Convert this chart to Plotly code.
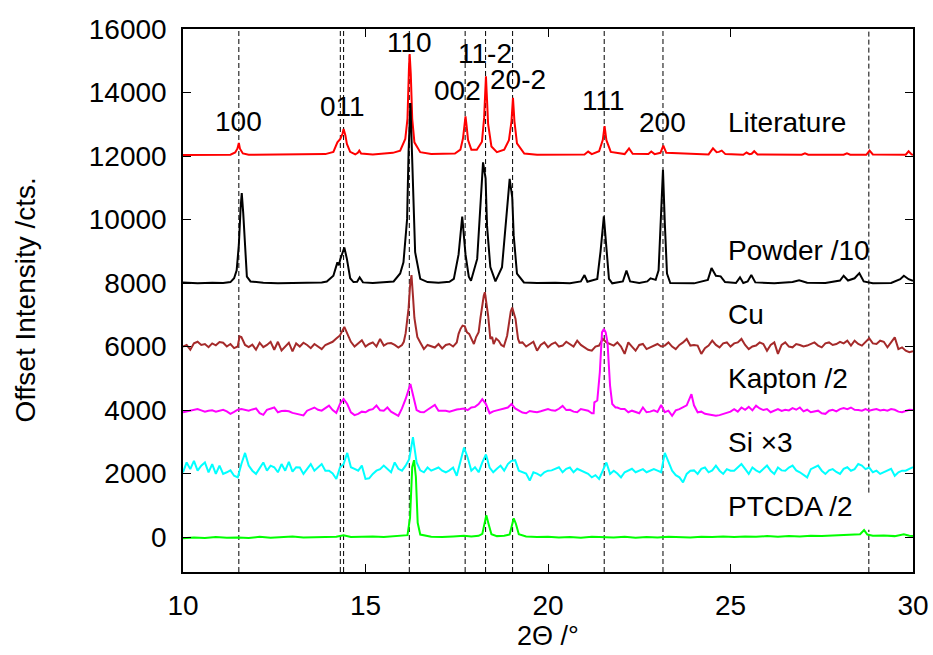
import numpy as np
import plotly.graph_objects as go

FONT = "Liberation Sans, Arial, Helvetica, sans-serif"

# ---------------- data ----------------
grid_x = [round(10 + 0.1 * i, 2) for i in range(201)]

lit_x = [10.0, 11.3, 11.43, 11.49, 11.53, 11.56, 11.64, 11.8, 13.9, 14.12, 14.23, 14.31, 14.37, 14.40,
         14.45, 14.49, 14.58, 14.72, 14.79, 14.83, 14.88, 15.2, 15.75, 15.95, 16.09, 16.15, 16.19, 16.21,
         16.24, 16.28, 16.34, 16.50, 16.8, 17.45, 17.60, 17.67, 17.71, 17.74, 17.77, 17.81, 17.90, 18.05,
         18.19, 18.25, 18.28, 18.30, 18.32, 18.36, 18.45, 18.60, 18.80, 18.93, 19.00, 19.04, 19.08, 19.15,
         19.35, 19.7, 21.0, 21.10, 21.2, 21.40, 21.50, 21.55, 21.60, 21.72, 22.10, 22.22, 22.32, 22.75,
         22.83, 22.92, 23.08, 23.16, 23.24, 24.40, 24.52, 24.62, 24.68, 24.76, 24.86, 25.35, 25.44, 25.52,
         25.58, 25.65, 25.74, 26.95, 27.04, 27.13, 28.10, 28.19, 28.28, 28.72, 28.81, 28.90, 29.80, 29.88,
         29.96, 30.0]
lit_y = [12030, 12040, 12110, 12230, 12410, 12230, 12080, 12040, 12060, 12130, 12430, 12540, 12700, 12850,
         12650, 12380, 12130, 12050, 12100, 12170, 12080, 12050, 12100, 12170, 12540, 13170, 14750, 15210,
         14600, 13170, 12430, 12120, 12060, 12080, 12200, 12550, 12950, 13250, 12950, 12500, 12200, 12200,
         12450, 13200, 14000, 14510, 14000, 13000, 12300, 12120, 12200, 12500, 13100, 13830, 13100, 12400,
         12080, 12040, 12050, 12140, 12060, 12150, 12500, 12940, 12500, 12130, 12060, 12240, 12070, 12060,
         12140, 12060, 12100, 12330, 12100, 12050, 12240, 12120, 12130, 12170, 12060, 12040, 12110, 12060,
         12070, 12150, 12050, 12040, 12085, 12040, 12040, 12085, 12040, 12040, 12170, 12050, 12040, 12150,
         12050, 12040]

pow_x = [10.0, 10.4, 10.8, 11.1, 11.3, 11.4, 11.47, 11.53, 11.58, 11.61, 11.65, 11.70, 11.75, 11.85, 12.2,
         12.6, 13.0, 13.4, 13.8, 13.94, 14.12, 14.23, 14.27, 14.31, 14.37, 14.42, 14.49, 14.58, 14.67, 14.77,
         14.84, 14.93, 15.2, 15.5, 15.77, 15.95, 16.04, 16.14, 16.18, 16.23, 16.29, 16.36, 16.50, 16.7, 17.0,
         17.3, 17.42, 17.55, 17.65, 17.74, 17.83, 17.89, 18.06, 18.15, 18.22, 18.29, 18.33, 18.42, 18.56,
         18.74, 18.86, 18.95, 19.02, 19.06, 19.15, 19.34, 19.7, 20.2, 20.6, 20.9, 21.00, 21.08, 21.35, 21.44,
         21.53, 21.61, 21.67, 21.76, 22.05, 22.15, 22.25, 22.5, 22.72, 22.81, 22.95, 23.03, 23.11, 23.15,
         23.20, 23.26, 23.35, 24.0, 24.38, 24.48, 24.60, 24.73, 24.85, 25.15, 25.26, 25.35, 25.47, 25.57,
         25.68, 26.2, 26.7, 26.88, 27.1, 27.6, 28.0, 28.10, 28.22, 28.40, 28.53, 28.65, 28.9, 29.4, 29.65,
         29.75, 29.88, 30.0]
pow_y = [8020, 7990, 8010, 8000, 8030, 8150, 8400, 9200, 10400, 10830, 10200, 9000, 8200, 8050, 8010,
         7990, 8000, 7990, 8020, 8050, 8230, 8650, 8560, 8750, 9000, 9120, 8760, 8150, 8030, 8040,
         8180, 8020, 8000, 8020, 8050, 8300, 8650, 10020, 12120, 13670, 11590, 8970, 8130, 8030, 8010,
         8040, 8130, 8900, 10090, 8900, 8200, 8075, 8760, 10540, 11800, 11300, 9800, 8500, 8050,
         8500, 10000, 11280, 10700, 9500, 8300, 8020, 8000, 8010, 7990, 8050, 8250, 8040, 8130, 9000,
         10100, 9100, 8130, 7990, 8050, 8390, 8050, 8000, 8050, 8150, 8100, 8400, 10500, 11570,
         9900, 8300, 8000, 7990, 8100, 8470, 8230, 8210, 8030, 8000, 8180, 8000, 8050, 8250,
         8020, 7990, 8030, 8090, 8010, 8000, 8080, 8230, 8080, 8150, 8310, 8050, 7990, 8000, 8120,
         8230, 8120, 8070]

cu_grid_y = [6000, 6050, 5900, 6100, 6150, 6050, 6080, 5980, 6100, 6040,
             6140, 6120, 6000, 6080, 5950, 6000, 6300, 6050, 5980, 6060,
             5900, 6120, 5980, 6050, 6150, 5900, 6150, 5880, 6000, 6120,
             5850, 6100, 6000, 6120, 6050, 5950, 6080, 6000, 5920, 6050,
             6100, 6150, 6250, 6350, 6600, 6400, 6150, 6000, 6100, 6200,
             6000, 6080, 6130, 6000, 6240, 6030, 6100, 6110, 6050, 5970,
             6050, 6420, 7900, 7600, 6300, 6130, 5920, 6050, 6000, 5970,
             6080, 5940, 6050, 6080, 6000, 6130, 6550, 6650, 6450, 6250,
             6200, 6450, 7290, 7500, 6240, 6080, 6180, 6050, 6000, 6340,
             7230, 6870, 6240, 6130, 6000, 6080, 6150, 5870, 6050, 6130,
             5980, 6080, 6130, 6000, 6030, 6150, 6080, 6000, 6185, 6050,
             5975, 5900, 5870, 6000, 6030, 6240, 6130, 6080, 6030, 6130,
             6000, 5770, 6130, 6000, 5870, 6050, 6080, 5920, 5975, 6050,
             6080, 6000, 6030, 6130, 6000, 5920, 6050, 6130, 6240, 6030,
             6050, 6030, 5770, 5950, 6030, 6185, 6050, 5975, 6100, 6130,
             6000, 6100, 6130, 6240, 6050, 5920, 6000, 6030, 6130, 6080,
             5870, 6050, 6130, 5770, 6050, 6130, 6000, 5975, 6080, 6050,
             6000, 6030, 6080, 6130, 6030, 5975, 6100, 6130, 6050, 6080,
             6150, 6100, 6185, 6030, 6185, 6080, 6030, 6150, 6260, 6100,
             6080, 6185, 6150, 5975, 6130, 6290, 5920, 5975, 5870, 5820,
             5850]
cu_peak_x = [11.55, 14.42, 16.05, 16.1, 16.15, 16.18, 16.22, 16.26, 16.3, 16.34, 16.38, 16.42,
             17.5, 17.55, 17.6, 17.66, 17.72, 17.78, 17.84, 17.9, 17.97, 18.03, 18.10, 18.15, 18.19,
             18.24, 18.27, 18.31, 18.36, 18.42, 18.47, 18.51, 18.58, 18.65, 18.72, 18.79, 18.84, 18.88,
             18.94, 18.98, 19.02, 19.06, 19.11, 19.15, 19.18, 19.22]
cu_peak_y = [6320, 6620, 6150, 6420, 6900, 7200, 7900, 8250, 7600, 6900, 6600, 6300,
             6130, 6400, 6550, 6660, 6640, 6450, 6400, 6250, 6080, 6300, 6450, 6900, 7290,
             7600, 7710, 7400, 6970, 6240, 6300, 6080, 6250, 6180, 6050, 6000, 6200, 6340,
             6800, 7100, 7230, 7050, 6870, 6500, 6240, 6120]

kap_grid_y = [3930, 3960, 3980, 4010, 4030, 3990, 3950, 3980, 3990, 3950,
              3970, 4010, 3960, 3880, 3940, 4010, 4030, 4000, 3980, 4020,
              4050, 3900, 3850, 4010, 4040, 4080, 3930, 3970, 3980, 3960,
              3910, 3880, 3850, 3830, 3980, 4020, 4080, 4010, 3980, 4060,
              4140, 4000, 3910, 4190, 4350, 4190, 3930, 3840, 3880, 3950,
              3930, 4000, 4030, 4140, 3990, 3980, 4080, 3950, 3880, 3820,
              4050, 4350, 4750, 4450, 4000, 3940, 3930, 4010, 4080, 4160,
              3980, 3990, 3980, 3950, 3990, 4020, 4030, 4050, 4000, 4080,
              4100, 4190, 4340, 4190, 3900, 3960, 3990, 4030, 4050, 4080,
              4190, 4050, 3980, 3920, 3900, 3970, 3950, 3930, 3960, 4000,
              4030, 3990, 3980, 4040, 4130, 4000, 4010, 3950, 3930, 4030,
              4010, 3980, 3900, 4240, 5190, 6450, 6450, 4770, 4190, 4080,
              4030, 4030, 3930, 3980, 3950, 3900, 4080, 3930, 3950, 3990,
              3940, 4160, 3930, 3980, 3820, 3990, 4030, 4080, 4150, 4450,
              4150, 3930, 3950, 3880, 3860, 3830, 3820, 3840, 3880, 3920,
              3950, 4030, 3950, 4080, 4010, 4100, 3990, 4140, 4050, 4000,
              4030, 3930, 3980, 4030, 3970, 4010, 3990, 4060, 4010, 4080,
              3960, 4010, 3930, 3960, 3980, 3900, 3880, 3980, 4010, 3960,
              4030, 4060, 4030, 4080, 4010, 4000, 3980, 4030, 3980, 4010,
              4030, 3990, 4010, 3980, 4030, 4010, 3950, 3930, 3970, 4010,
              4000]
kap_peak_x = [16.23, 21.25, 21.27, 21.35, 21.42, 21.48, 21.53, 21.58, 21.63, 21.70, 21.76, 21.85, 23.93]
kap_peak_y = [4820, 3900, 4240, 4300, 5190, 6450, 6550, 6450, 6130, 4770, 4190, 4080, 4500]

si_grid_y = [2040, 2350, 2140, 2400, 2090, 2250, 2350, 2040, 2300, 1990,
             2250, 1990, 2040, 2100, 1930, 1880, 2300, 2650, 2250, 2090,
             1990, 2150, 2350, 2090, 2250, 2200, 2040, 2300, 2090, 2370,
             2060, 2200, 2190, 1990, 2150, 2300, 2090, 2200, 2300, 2090,
             2090, 2000, 1830, 2190, 2300, 2650, 2200, 2150, 2090, 2250,
             1830, 1850, 1990, 2090, 2140, 2250, 2150, 2040, 2350, 2150,
             2090, 2250, 2460, 3150, 2350, 2100, 2040, 2190, 2090, 2150,
             2190, 2090, 2040, 2100, 2190, 1930, 2350, 2820, 2500, 2090,
             2200, 2040, 2350, 2600, 2190, 2040, 2150, 2250, 2090, 2300,
             2400, 2420, 2090, 2040, 2000, 1780, 2040, 2000, 1930, 2040,
             2090, 2100, 2140, 2200, 2040, 2150, 2190, 2040, 2150, 2090,
             2040, 1990, 1880, 1950, 1830, 2090, 2350, 1990, 2090, 2000,
             1880, 2040, 2090, 2150, 2040, 2100, 2140, 2040, 2100, 2140,
             2090, 2040, 2650, 2350, 2090, 1950, 1880, 1720, 1990, 2090,
             2100, 1990, 2150, 2190, 2040, 2100, 2250, 2090, 1990, 2140,
             2090, 2090, 2200, 2300, 2150, 1990, 2190, 2100, 2040, 2150,
             2250, 2090, 1990, 2190, 2100, 2090, 2190, 2250, 2100, 2040,
             1950, 1880, 2140, 2200, 2250, 2090, 1990, 2100, 2140, 2050,
             1990, 2150, 2200, 2090, 2140, 2300, 2250, 2140, 2190, 2040,
             2090, 1990, 2040, 2090, 2150, 1930, 2040, 2090, 2090, 2150,
             2200]

pt_x = [10.0, 10.3, 10.6, 10.9, 11.2, 11.5, 11.8, 12.1, 12.4, 12.7, 13.0, 13.3, 13.6, 13.9, 14.2, 14.4,
        14.6, 14.9, 15.2, 15.5, 15.8, 16.0, 16.15, 16.22, 16.28, 16.33, 16.38, 16.43, 16.5, 16.8, 17.1,
        17.4, 17.7, 17.9, 18.1, 18.2, 18.26, 18.31, 18.37, 18.45, 18.6, 18.8, 18.95, 19.0, 19.06, 19.12,
        19.2, 19.4, 19.7, 20.0, 20.3, 20.6, 20.9, 21.2, 21.5, 21.8, 22.1, 22.4, 22.7, 23.0, 23.3, 23.6,
        23.9, 24.2, 24.5, 24.8, 25.1, 25.4, 25.7, 26.0, 26.3, 26.6, 26.9, 27.2, 27.5, 27.8, 28.1, 28.4,
        28.55, 28.66, 28.75, 28.9, 29.2, 29.5, 29.75, 29.9, 30.0]
pt_y = [-40, -10, -30, 0, -20, -10, -30, 10, -20, 0, 20, -10, 0, -10, 10, 60,
        0, 10, 20, 0, 20, 30, 60, 600, 2200, 2420, 1900, 450, 80, 10, 0,
        20, 40, 20, 40, 100, 450, 690, 420, 90, 30, 40, 80, 350, 590, 420,
        90, 20, 0, 10, -10, 0, -20, 10, 0, -10, 10, -20, 0, -10, 10, 0,
        -10, 10, 0, 20, 0, 20, 10, 30, 10, 30, 20, 40, 30, 50, 60, 70,
        90, 220, 80, 40, 50, 30, 90, 40, 30]

ref_lines = [11.53, 14.31, 14.40, 16.20, 17.73, 18.29, 19.03, 21.54, 23.15, 28.79]
ref_gap = [1400, 230]   # blank stretch of the 28.79 line (under "PTCDA /2")

peak_labels = ["100", "011", "110", "002", "11-2", "20-2", "111", "200"]
peak_lab_x = [11.53, 14.36, 16.21, 17.53, 18.28, 19.18, 21.52, 23.13]
peak_lab_y = [13080, 13553, 15565, 14079, 15244, 14425, 13754, 13071]

series_names = ["Literature", "Powder /10", "Cu", "Kapton /2", "Si ×3", "PTCDA /2"]
series_colors = ["#ff0000", "#000000", "#a52a2a", "#ff00ff", "#00ffff", "#00ff00"]
series_lab_y = [13071, 9024, 7002, 4983, 2976, 967]
series_lab_x = 24.88

y_ticks = list(range(0, 16001, 2000))
x_ticks = [10, 15, 20, 25, 30]


def merge(gx, gy, ex, ey, tol=0.045):
    pts = [(a, b) for a, b in zip(gx, gy) if all(abs(a - e) >= tol for e in ex)]
    pts += list(zip(ex, ey))
    pts.sort()
    return [p[0] for p in pts], [p[1] for p in pts]


cu_x, cu_y = merge(grid_x, cu_grid_y, cu_peak_x, cu_peak_y)
kap_x, kap_y = merge(grid_x, kap_grid_y, kap_peak_x, kap_peak_y)
si_x, si_y = grid_x, si_grid_y

series = [(lit_x, lit_y), (pow_x, pow_y), (cu_x, cu_y), (kap_x, kap_y), (si_x, si_y), (pt_x, pt_y)]

fig = go.Figure()

for (sx, sy), name, col in zip(series, series_names, series_colors):
    fig.add_trace(go.Scatter(x=sx, y=sy, mode="lines", name=name,
                             line=dict(color=col, width=2), showlegend=False))

shapes = []
for xv in ref_lines:
    if xv == ref_lines[-1]:
        segs = [(-1100, ref_gap[1]), (ref_gap[0], 16000)]
    else:
        segs = [(-1100, 16000)]
    for y0, y1 in segs:
        shapes.append(dict(type="line", xref="x", yref="y", x0=xv, x1=xv, y0=y0, y1=y1,
                           line=dict(color="black", width=1, dash="5px,3px"), layer="below"))

annotations = []
for t, ax_, ay_ in zip(peak_labels, peak_lab_x, peak_lab_y):
    annotations.append(dict(text=t, x=ax_, y=ay_, xref="x", yref="y", showarrow=False,
                            xanchor="center", yanchor="middle",
                            font=dict(family=FONT, size=28, color="black")))
for t, ay_ in zip(series_names, series_lab_y):
    annotations.append(dict(text=t, x=series_lab_x, y=ay_, xref="x", yref="y", showarrow=False,
                            xanchor="left", yanchor="middle",
                            font=dict(family=FONT, size=28, color="black")))
annotations.append(dict(text="Offset Intensity /cts.", x=0, y=0.5, xref="paper", yref="paper",
                        xshift=-158, textangle=-90, showarrow=False, xanchor="center", yanchor="middle",
                        font=dict(family=FONT, size=28, color="black")))
annotations.append(dict(text="2Θ /°", x=0.5, y=0, xref="paper", yref="paper",
                        yshift=-64, showarrow=False, xanchor="center", yanchor="middle",
                        font=dict(family=FONT, size=27, color="black")))

axis_common = dict(showline=True, linecolor="black", linewidth=1.5, mirror="ticks",
                   ticks="inside", ticklen=8, tickwidth=1, tickcolor="black",
                   showgrid=False, zeroline=False, automargin=False,
                   tickfont=dict(family=FONT, size=28, color="black"))

fig.update_layout(
    width=933, height=655,
    margin=dict(l=183, r=20, t=29, b=83, autoexpand=False),
    paper_bgcolor="white", plot_bgcolor="white",
    xaxis=dict(range=[10, 30], tickvals=x_ticks, ticktext=[str(v) for v in x_ticks],
               ticklabelstandoff=8, **axis_common),
    yaxis=dict(range=[-1100, 16000], tickvals=y_ticks, ticktext=[str(v) for v in y_ticks],
               ticklabelstandoff=9, **axis_common),
    shapes=shapes, annotations=annotations, showlegend=False,
)

fig.write_html("out.html")
